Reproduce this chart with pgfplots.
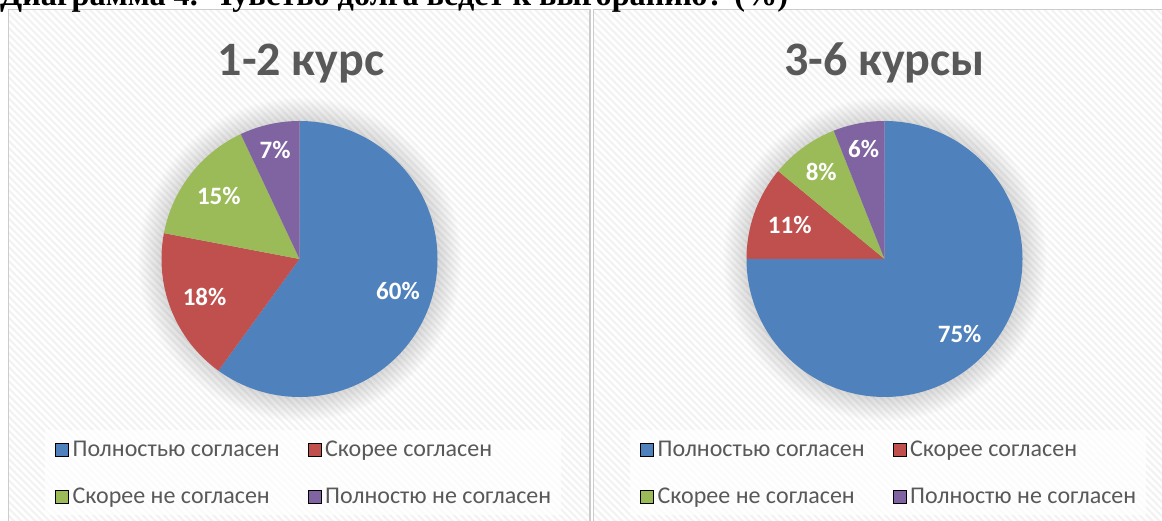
\documentclass[border=0pt]{standalone}
\usepackage{fontspec}
\setmainfont{Carlito}
\newfontfamily\tnr{Liberation Serif}
\usepackage{pgfplots}
\pgfplotsset{compat=1.18}
\usetikzlibrary{patterns.meta,fadings}
\definecolor{pblue}{HTML}{4F81BD}
\definecolor{pred}{HTML}{C0504D}
\definecolor{pgreen}{HTML}{9BBB59}
\definecolor{ppurple}{HTML}{8064A2}
\definecolor{txt}{HTML}{595959}
\newcommand{\labfont}{\bfseries\fontsize{25}{29}\selectfont}
\newcommand{\legfont}{\fontsize{24}{28}\selectfont}
\newcommand{\titfont}{\bfseries\fontsize{48}{53}\selectfont}
% start angle, value (%), colour, label radius
\newcommand{\slice}[4]{%
  \fill[#3] (axis cs:0,0) -- (axis cs:{cos(#1)},{sin(#1)})
     arc[start angle={#1}, delta angle={-3.6*#2}, radius=138pt] -- cycle;
  \node[text=white, font=\labfont, inner sep=0pt]
     at (axis cs:{#4*cos((#1)-1.8*#2)},{#4*sin((#1)-1.8*#2)}) {#2\%};
}
\pgfplotsset{
  pieaxis/.style={
    hide axis, scale only axis, width=276pt, height=276pt,
    xmin=-1, xmax=1, ymin=-1, ymax=1, anchor=origin, at={(0,0)}, clip=false,
    legend columns=2,
    legend cell align=left,
    legend image code/.code={\fill[##1, fill opacity=1] (0pt,-6.5pt) rectangle (13pt,6.5pt);},
    legend style={
      at={(axis description cs:-0.4221,-0.1196)}, anchor=north west,
      draw=none, fill=white, fill opacity=0.7, text opacity=1,
      inner xsep=10pt, inner ysep=7pt,
      font=\legfont, text=txt,
      nodes={inner sep=0pt, text height=19pt, text depth=5pt},
      row sep=23pt,
      /tikz/every odd column/.append style={column sep=4pt},
      /tikz/every even column/.append style={column sep=28pt},
    },
  }
}
\begin{document}
\begin{tikzpicture}[x=1pt,y=1pt]
\useasboundingbox (0,0) rectangle (1162,521);
\clip (0,0) rectangle (1162,521);
\fill[white] (0,0) rectangle (1162,521);
% panels
\foreach \xa/\xb in {8.5/590, 593.5/1175}{
  \fill[white] (\xa,-5) rectangle (\xb,511.5);
  \fill[pattern={Lines[angle=-45,distance=5pt,line width=2pt]}, pattern color=black!5] (\xa,-5) rectangle (\xb,511.5);
  \draw[black!20, line width=1.5pt] (\xa,-5) rectangle (\xb,511.5);
}
% soft shadows
\fill[black, opacity=0.14, path fading=circle with fuzzy edge 15 percent] (299.5,262) circle (162);
\fill[black, opacity=0.14, path fading=circle with fuzzy edge 15 percent] (884.5,262) circle (162);
% caption (cut off at the top)
\node[anchor=base west, inner sep=0pt] at (0,515.6)
  {\resizebox{788pt}{!}{\tnr\bfseries\fontsize{30}{34}\selectfont Диаграмма 4. Чувство долга ведет к выгоранию? (\%)}};
% left pie
\begin{scope}[shift={(299.5,262)}]
\begin{axis}[pieaxis]
  \slice{90}{60}{pblue}{0.75}
  \slice{90-3.6*60}{18}{pred}{0.74}
  \slice{90-3.6*78}{15}{pgreen}{0.74}
  \slice{90-3.6*93}{7}{ppurple}{0.81}
  \addlegendimage{fill=pblue}\addlegendentry{Полностью согласен}
  \addlegendimage{fill=pred}\addlegendentry{Скорее согласен}
  \addlegendimage{fill=pgreen}\addlegendentry{Скорее не согласен}
  \addlegendimage{fill=ppurple}\addlegendentry{Полностю не согласен}
\end{axis}
\end{scope}
% right pie
\begin{scope}[shift={(884.5,262)}]
\begin{axis}[pieaxis]
  \slice{90}{75}{pblue}{0.77}
  \slice{90-3.6*75}{11}{pred}{0.73}
  \slice{90-3.6*86}{8}{pgreen}{0.78}
  \slice{90-3.6*94}{6}{ppurple}{0.81}
  \addlegendimage{fill=pblue}\addlegendentry{Полностью согласен}
  \addlegendimage{fill=pred}\addlegendentry{Скорее согласен}
  \addlegendimage{fill=pgreen}\addlegendentry{Скорее не согласен}
  \addlegendimage{fill=ppurple}\addlegendentry{Полностю не согласен}
\end{axis}
\end{scope}
% titles
\node[anchor=base, text=txt, font=\titfont, inner sep=0pt] at (301,445) {1-2 курс};
\node[anchor=base, text=txt, font=\titfont, inner sep=0pt] at (884.5,445) {3-6 курсы};
\end{tikzpicture}
\end{document}
